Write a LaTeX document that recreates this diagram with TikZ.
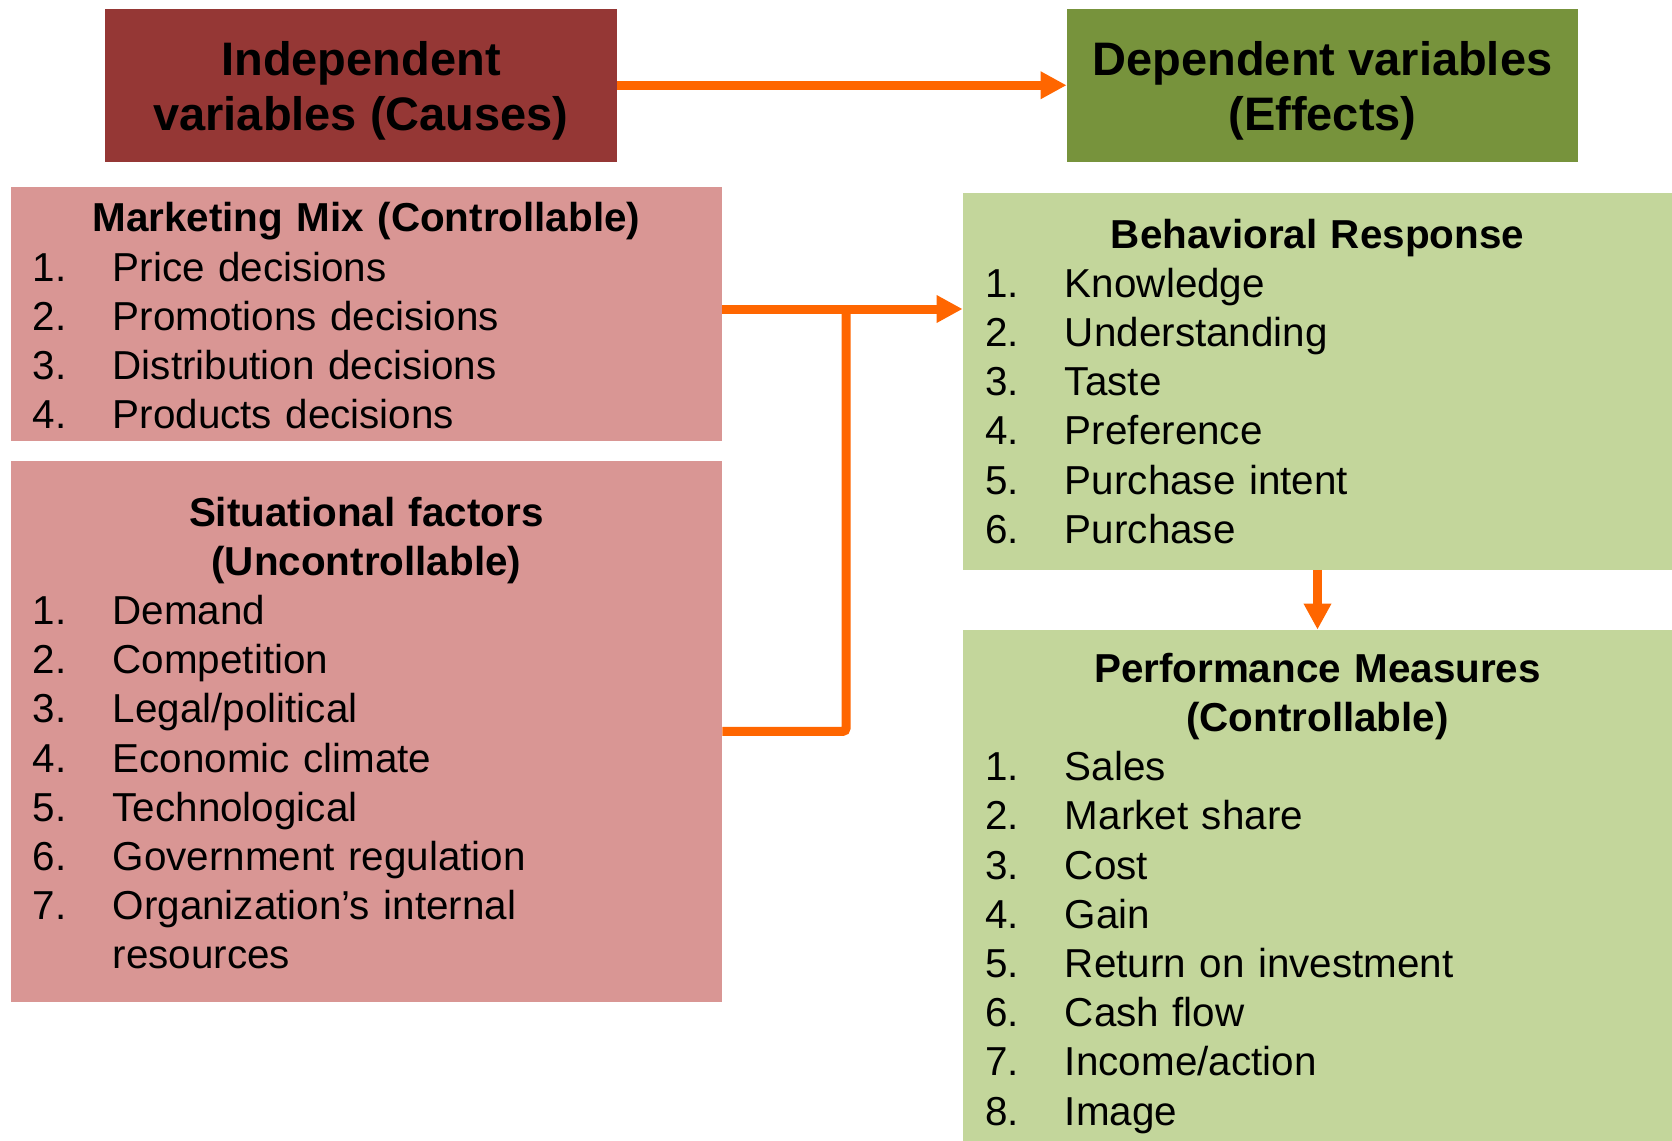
\documentclass[tikz,border=0pt]{standalone}
\usepackage{fontspec}
\setmainfont{Liberation Sans}
\usetikzlibrary{arrows.meta}

\definecolor{causedark}{HTML}{953735}
\definecolor{causelight}{HTML}{D99694}
\definecolor{effectdark}{HTML}{77933C}
\definecolor{effectlight}{HTML}{C3D69B}
\definecolor{flowc}{HTML}{FF6600}

\newcommand{\numline}[2]{\par\noindent\makebox[40pt][l]{#1}#2}

\begin{document}
\begin{tikzpicture}[x=0.5pt,y=-0.5pt,
  headbox/.style={fill=#1, minimum width=256pt, minimum height=76.75pt, inner sep=0pt,
    align=center, font={\fontsize{23.5pt}{27.75pt}\selectfont\bfseries}},
  listbox/.style={fill=#1, inner xsep=11pt, inner ysep=0pt, align=left,
    font={\fontsize{20.2pt}{24.6pt}\selectfont}},
  flow/.style={draw=flowc, line width=4.5pt, -{Triangle[length=13pt,width=13pt]}},
  flowline/.style={draw=flowc, line width=4.5pt, rounded corners=1.5pt}]

\useasboundingbox (0,0) rectangle (1672,1141);

% top row
\node[headbox=causedark] (indep) at (361,85.25) {\rule{0pt}{22.5pt}Independent\\variables (Causes)};
\node[headbox=effectdark, minimum width=255.5pt] (dep) at (1322.5,85.25) {\rule{0pt}{22.5pt}Dependent variables\\(Effects)};

% causes
\node[listbox=causelight, text width=333.65pt, minimum height=127.45pt] (mix) at (366.35,314) {%
  {\centering\bfseries\rule{0pt}{16.4pt}Marketing Mix (Controllable)\par}
  \numline{1.}{Price decisions}
  \numline{2.}{Promotions decisions}
  \numline{3.}{Distribution decisions}
  \numline{4.}{Products decisions}};

\node[listbox=causelight, text width=333.65pt, minimum height=270.7pt] (sit) at (366.35,731.3) {%
  {\centering\bfseries\rule{0pt}{16.4pt}Situational factors\\(Uncontrollable)\par}
  \numline{1.}{Demand}
  \numline{2.}{Competition}
  \numline{3.}{Legal/political}
  \numline{4.}{Economic climate}
  \numline{5.}{Technological}
  \numline{6.}{Government regulation}
  \numline{7.}{Organization’s internal}
  \numline{}{resources}};

% effects
\node[listbox=effectlight, text width=332.5pt, minimum height=188.25pt] (behav) at (1317.5,381.25) {%
  {\centering\bfseries Behavioral Response\par}
  \numline{1.}{Knowledge}
  \numline{2.}{Understanding}
  \numline{3.}{Taste}
  \numline{4.}{Preference}
  \numline{5.}{Purchase intent}
  \numline{6.}{Purchase}};

\node[listbox=effectlight, text width=332.5pt, minimum height=255.5pt] (perf) at (1317.5,885.5) {%
  {\centering\bfseries\rule{0pt}{22.3pt}Performance Measures\\(Controllable)\par}
  \numline{1.}{Sales}
  \numline{2.}{Market share}
  \numline{3.}{Cost}
  \numline{4.}{Gain}
  \numline{5.}{Return on investment}
  \numline{6.}{Cash flow}
  \numline{7.}{Income/action}
  \numline{8.}{Image}};

% connectors
\coordinate (join) at (846,309);
\draw[flow] (indep) -- (dep);
\draw[flow] (mix.east |- join) -- (behav.west |- join);
\draw[flowline] (sit.east) -| (join);
\draw[flow] (behav) -- (perf);

\end{tikzpicture}
\end{document}
